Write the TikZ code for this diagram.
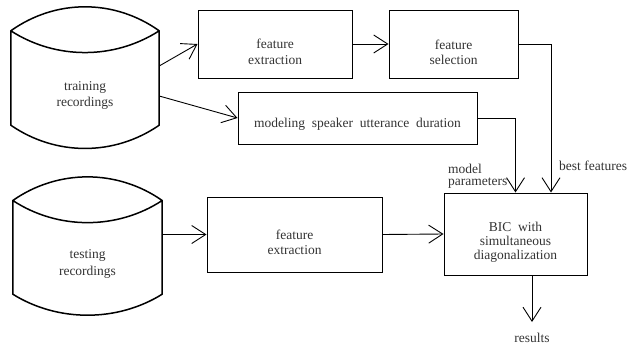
\documentclass[tikz,border=0pt]{standalone}
\usepackage{fontspec}
\setmainfont{Liberation Serif}
\usetikzlibrary{arrows.meta,calc}
\begin{document}
\begin{tikzpicture}[x=1pt,y=-1pt,
  box/.style={draw, line width=1pt, inner sep=0pt},
  cylbox/.style={inner sep=0pt},
  cyl/.style={line width=1.5pt, line join=round},
  txt/.style={font=\fontsize{13.5}{15}\selectfont, text=black!80, align=center, inner sep=0pt},
  lbl/.style={font=\fontsize{13.5}{12}\selectfont, text=black!80, inner sep=0pt},
  arr/.style={line width=0.9pt, -{Straight Barb[length=14pt,width=18pt,line width=0.9pt]}},
]
\useasboundingbox (0,0) rectangle (631,348);

% cylinders
\node[cylbox, minimum width=148pt, minimum height=94pt] (train) at (85,78) {};
\draw[cyl] (train.north west)
  .. controls ([xshift=45pt,yshift=32pt]train.north west) and ([xshift=-45pt,yshift=32pt]train.north east) .. (train.north east)
  .. controls ([xshift=-45pt,yshift=-29pt]train.north east) and ([xshift=45pt,yshift=-29pt]train.north west) .. (train.north west)
  -- (train.south west)
  .. controls ([xshift=45pt,yshift=-31pt]train.south west) and ([xshift=-45pt,yshift=-31pt]train.south east) .. (train.south east)
  -- (train.north east);
\node[txt] (traint) at ([yshift=-17pt]train.center) {training\\[1pt]recordings};

\node[cylbox, minimum width=149pt, minimum height=93.3pt] (test) at (87.5,247.35) {};
\draw[cyl] (test.north west)
  .. controls ([xshift=45pt,yshift=31.5pt]test.north west) and ([xshift=-45pt,yshift=31.5pt]test.north east) .. (test.north east)
  .. controls ([xshift=-45pt,yshift=-29.5pt]test.north east) and ([xshift=45pt,yshift=-29.5pt]test.north west) .. (test.north west)
  -- (test.south west)
  .. controls ([xshift=45pt,yshift=-28pt]test.south west) and ([xshift=-45pt,yshift=-28pt]test.south east) .. (test.south east)
  -- (test.north east);
\node[txt] (testt) at ([yshift=-17pt]test.center) {testing\\[2pt]recordings};

% boxes
\node[box, minimum width=154pt, minimum height=68pt] (fe1) at (275,44) {};
\node[txt] at ([yshift=-7.5pt]fe1.center) {feature\\[1pt]extraction};
\node[box, minimum width=129pt, minimum height=68pt] (fs) at (453.5,44) {};
\node[txt] at ([yshift=-8pt]fs.center) {feature\\selection};
\node[box, minimum width=239pt, minimum height=52pt] (model) at (357.5,118) {};
\node[txt] at ([yshift=-6.5pt]model.center) {modeling\ \ speaker\ \ utterance\ \ duration};
\node[box, minimum width=175pt, minimum height=75pt] (fe2) at (294.5,234.5) {};
\node[txt] at ([yshift=-8pt]fe2.center) {feature\\extraction};
\node[box, minimum width=143pt, minimum height=82pt] (bic) at (515.5,234) {};
\node[txt, font=\fontsize{13.5}{14}\selectfont] at ([yshift=-8pt]bic.center) {BIC\ \ with\\simultaneous\\diagonalization};

% labels
\node[lbl, align=left, anchor=west] (mp) at (448,176) {model\\parameters};
\node[lbl, anchor=west] (bf) at (559,166) {best\ features};
\node[lbl, anchor=north, inner ysep=11pt] (results) at (532,322) {results};

% connectors
\draw[arr] ([yshift=12pt]train.east) -- (fe1.west);
\draw[arr] ([yshift=-18pt]train.east) -- (model.west);
\draw[arr] (fe1.east) -- (fs.west);
\draw[arr] (fs.east) -| ([xshift=35.5pt]bic.north);
\draw[arr] (model.east) -| (bic.north);
\draw[arr] (test.east |- fe2.west) -- (fe2.west);
\draw[arr] (fe2.east) -- (bic.west);
\draw[arr] ([xshift=16.5pt]bic.south) -- (results.north);
\end{tikzpicture}
\end{document}
